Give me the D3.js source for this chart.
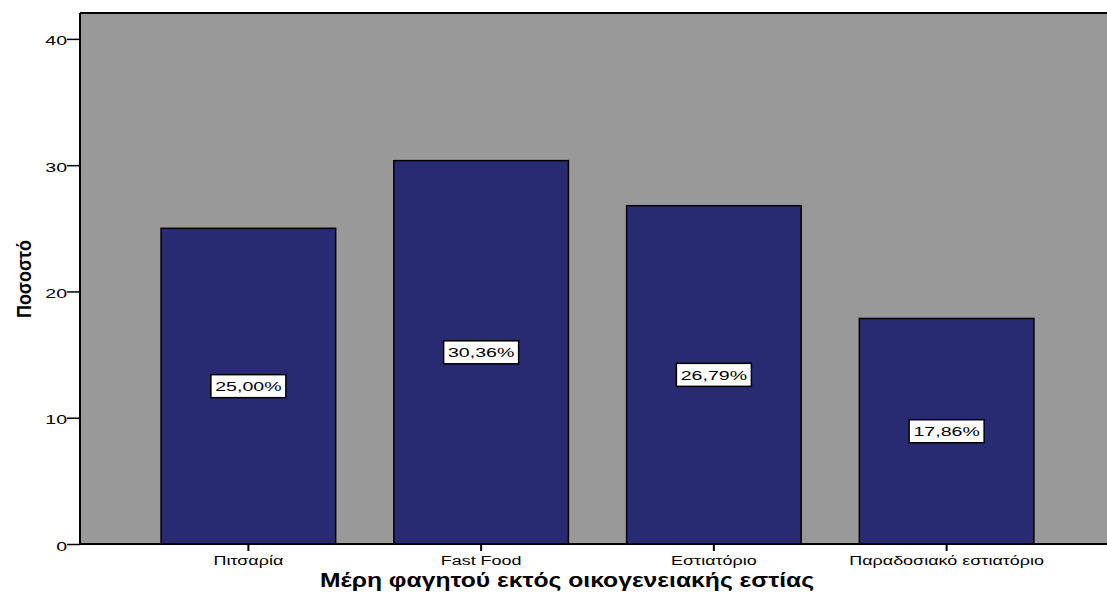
<!DOCTYPE html>
<html>
<head>
<meta charset="utf-8">
<script src="https://cdn.jsdelivr.net/npm/d3@7"></script>
<style>
  html, body { margin: 0; padding: 0; background: #fff; }
  svg { display: block; }
  text { font-family: "Liberation Sans", Arial, sans-serif; }
</style>
</head>
<body>
<svg id="chart" width="1107" height="604"></svg>
<script>
const categories = ["Πιτσαρία", "Fast Food", "Εστιατόριο", "Παραδοσιακό εστιατόριο"];
const values = [25.00, 30.36, 26.79, 17.86];
const valueLabels = ["25,00%", "30,36%", "26,79%", "17,86%"];
const yTicks = [0, 10, 20, 30, 40];
const xTitle = "Μέρη φαγητού εκτός οικογενειακής εστίας";
const yTitle = "Ποσοστό";

const svg = d3.select("#chart");
const mLeft = 80, mRight = 1107, mTop = 13, mBottom = 544;
const FONT = '"Liberation Sans", Arial, sans-serif';

const x = d3.scaleBand().domain(categories).range([132, 1063])
  .paddingInner(0.25).paddingOuter(0.125);
const y = d3.scaleLinear().domain([0, 42.05]).range([mBottom, mTop]);

// plot background
svg.append("rect").attr("x", mLeft).attr("y", mTop)
  .attr("width", mRight - mLeft).attr("height", mBottom - mTop)
  .attr("fill", "#999999");

// bars
svg.selectAll("rect.bar").data(categories).join("rect")
  .attr("class", "bar")
  .attr("x", d => x(d))
  .attr("y", (d, i) => y(values[i]))
  .attr("width", x.bandwidth())
  .attr("height", (d, i) => y(0) - y(values[i]))
  .attr("fill", "#282a72")
  .attr("stroke", "#000").attr("stroke-width", 1.5);

// value labels
const lg = svg.selectAll("g.lbl").data(categories).join("g")
  .attr("class", "lbl")
  .attr("transform", (d, i) => `translate(${x(d) + x.bandwidth() / 2},${y(values[i] / 2)})`);
lg.append("rect").attr("x", -37.5).attr("y", -11.5).attr("width", 75).attr("height", 23)
  .attr("fill", "#fff").attr("stroke", "#000").attr("stroke-width", 1.5);
lg.append("text").attr("text-anchor", "middle").attr("y", 5)
  .attr("transform", "scale(1.45,1)")
  .attr("font-size", 13.5).attr("fill", "#000")
  .text((d, i) => valueLabels[i]);

// top border
svg.append("line").attr("x1", mLeft).attr("x2", mRight).attr("y1", mTop).attr("y2", mTop)
  .attr("stroke", "#000").attr("stroke-width", 2);

// y axis
const ya = svg.append("g").attr("transform", `translate(${mLeft},0)`)
  .call(d3.axisLeft(y).tickValues(yTicks).tickSize(13).tickPadding(0).tickFormat(d3.format("d")));
ya.select(".domain").attr("stroke", "#000").attr("stroke-width", 2).attr("d", `M0,${mTop}V${mBottom}`);
ya.selectAll(".tick line").attr("stroke", "#000").attr("stroke-width", 1.5);
ya.selectAll(".tick text").attr("font-size", 13.5).attr("fill", "#000")
  .attr("x", -13 / 1.45).attr("dy", "0.45em")
  .attr("transform", "scale(1.45,1)")
  .style("font-family", FONT);

// x axis
const xa = svg.append("g").attr("transform", `translate(0,${mBottom})`)
  .call(d3.axisBottom(x).tickSize(7).tickPadding(4));
xa.select(".domain").attr("stroke", "#000").attr("stroke-width", 2).attr("d", `M${mLeft},0H${mRight}`);
xa.selectAll(".tick line").attr("stroke", "#000").attr("stroke-width", 2);
xa.selectAll(".tick text").attr("font-size", 13.5).attr("fill", "#000")
  .attr("transform", "scale(1.33,1)")
  .style("font-family", FONT);

// axis titles
svg.append("text").attr("x", 567).attr("y", 587).attr("text-anchor", "middle")
  .attr("font-size", 19.5).attr("font-weight", "bold").attr("fill", "#000")
  .attr("textLength", 494).attr("lengthAdjust", "spacingAndGlyphs")
  .text(xTitle);
svg.append("text").attr("transform", "translate(31,279) rotate(-90)")
  .attr("text-anchor", "middle")
  .attr("font-size", 19.5).attr("font-weight", "bold").attr("fill", "#000")
  .attr("textLength", 78).attr("lengthAdjust", "spacingAndGlyphs")
  .text(yTitle);
</script>
</body>
</html>
